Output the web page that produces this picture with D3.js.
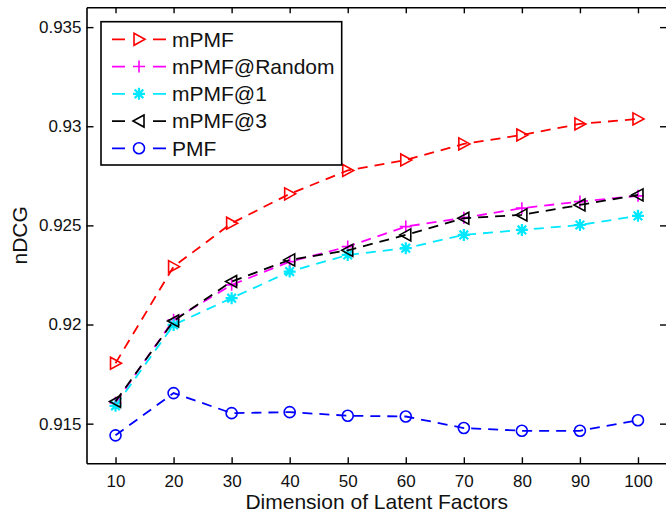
<!DOCTYPE html>
<html>
<head>
<meta charset="utf-8">
<script src="https://cdn.jsdelivr.net/npm/d3@7"></script>
<style>
  body { margin: 0; background: #fff; }
  text { font-family: "Liberation Sans", Arial, sans-serif; fill: #111; }
</style>
</head>
<body>
<div class="chart"></div>
<script>
// data
const dims = [10, 20, 30, 40, 50, 60, 70, 80, 90, 100];
const mPMF       = [0.91805, 0.92292, 0.92511, 0.92659, 0.92777, 0.92830, 0.92911, 0.92956, 0.93012, 0.93037];
const mPMFRandom = [0.91605, 0.92024, 0.92200, 0.92317, 0.92393, 0.92494, 0.92538, 0.92587, 0.92620, 0.92649];
const mPMF1      = [0.91590, 0.91998, 0.92133, 0.92267, 0.92351, 0.92385, 0.92452, 0.92477, 0.92502, 0.92548];
const mPMF3      = [0.91612, 0.92018, 0.92217, 0.92326, 0.92374, 0.92452, 0.92536, 0.92553, 0.92603, 0.92654];
const PMF        = [0.91441, 0.91654, 0.91553, 0.91558, 0.91540, 0.91536, 0.91478, 0.91464, 0.91464, 0.91517];
const seriesNames = ["mPMF", "mPMF@Random", "mPMF@1", "mPMF@3", "PMF"];
const yTicks = [0.915, 0.92, 0.925, 0.93, 0.935];
const yTickLabels = ["0.915", "0.92", "0.925", "0.93", "0.935"];

const series = [
  { name: seriesNames[0], values: mPMF,       color: "#ff0000", marker: "triRight" },
  { name: seriesNames[1], values: mPMFRandom, color: "#ff00ff", marker: "plus" },
  { name: seriesNames[2], values: mPMF1,      color: "#00e8ff", marker: "star" },
  { name: seriesNames[3], values: mPMF3,      color: "#000000", marker: "triLeft" },
  { name: seriesNames[4], values: PMF,        color: "#0000ff", marker: "circle" }
];

const W = 666, H = 513;
const plotLeft = 86.5, plotRight = 667, plotTop = 7.3, plotBottom = 463.3;

const svg = d3.select(".chart")
  .append("svg")
    .attr("width", W)
    .attr("height", H);

const x = d3.scaleLinear().domain([5, 105]).range([plotLeft, plotRight]);
const y = d3.scaleLinear().domain([0.913, 0.936]).range([plotBottom, plotTop]);

// marker shapes
const markerPath = (type) => {
  switch (type) {
    case "triRight": return "M-5,-6L6,0L-5,6Z";
    case "triLeft":  return "M5,-6L-6,0L5,6Z";
    case "plus":     return "M-6,0H6M0,-6V6";
    case "star":     return "M-6,0H6M0,-6V6M-4.3,-4.3L4.3,4.3M-4.3,4.3L4.3,-4.3";
    case "circle":   return "M5.5,0A5.5,5.5 0 1,1 -5.5,0A5.5,5.5 0 1,1 5.5,0Z";
  }
};

//axes
const axisStyle = g => {
  g.select(".domain").attr("stroke", "#000").attr("stroke-width", 1.6);
  g.selectAll(".tick line").attr("stroke", "#000").attr("stroke-width", 1.4);
  g.selectAll(".tick text")
    .style("font-family", '"Liberation Sans", Arial, sans-serif')
    .style("font-size", "17px")
    .attr("fill", "#111");
};

svg.append("g")
  .attr("transform", `translate(0,${plotBottom})`)
  .call(d3.axisBottom(x).tickValues(dims).tickSizeInner(-6).tickSizeOuter(0).tickPadding(12))
  .call(axisStyle);

svg.append("g")
  .attr("transform", `translate(0,${plotTop})`)
  .call(d3.axisTop(x).tickValues(dims).tickSizeInner(-6).tickSizeOuter(0).tickFormat(""))
  .call(axisStyle);

svg.append("g")
  .attr("transform", `translate(${plotLeft},0)`)
  .call(d3.axisLeft(y).tickValues(yTicks).tickSizeInner(-7).tickSizeOuter(0).tickPadding(5)
    .tickFormat((d, i) => yTickLabels[i]))
  .call(axisStyle);

svg.append("g")
  .attr("transform", `translate(${plotRight},0)`)
  .call(d3.axisRight(y).tickValues(yTicks).tickSizeInner(-7).tickSizeOuter(0).tickFormat(""))
  .call(axisStyle);

// axis titles
svg.append("text")
  .attr("x", (plotLeft + plotRight) / 2)
  .attr("y", 509)
  .attr("text-anchor", "middle")
  .style("font-size", "21px")
  .text("Dimension of Latent Factors");

svg.append("text")
  .attr("transform", `translate(27,${(plotTop + plotBottom) / 2}) rotate(-90)`)
  .attr("text-anchor", "middle")
  .style("font-size", "21px")
  .text("nDCG");

//lines
const line = d3.line()
  .x((d, i) => x(dims[i]))
  .y(d => y(d));

const plot = svg.append("g");

series.forEach(s => {
  const g = plot.append("g");
  g.append("path")
    .attr("d", line(s.values))
    .attr("fill", "none")
    .attr("stroke", s.color)
    .attr("stroke-width", 1.8)
    .attr("stroke-dasharray", "10,7");
  g.selectAll("path.marker")
    .data(s.values)
    .enter().append("path")
    .attr("class", "marker")
    .attr("transform", (d, i) => `translate(${x(dims[i])},${y(d)})`)
    .attr("d", markerPath(s.marker))
    .attr("fill", "none")
    .attr("stroke", s.color)
    .attr("stroke-width", s.marker === "star" ? 2.2 : 1.6);
});

//legend
const legend = svg.append("g");
legend.append("rect")
  .attr("x", 101)
  .attr("y", 21.7)
  .attr("width", 240.7)
  .attr("height", 143.3)
  .attr("fill", "#fff")
  .attr("stroke", "#000")
  .attr("stroke-width", 1.6);

const items = legend.selectAll(".item")
  .data(series)
  .enter().append("g")
  .attr("class", "item")
  .attr("transform", (d, i) => `translate(0,${39.3 + i * 27.25})`);

items.append("line")
  .attr("x1", 112).attr("x2", 166)
  .attr("stroke", d => d.color)
  .attr("stroke-width", 1.8)
  .attr("stroke-dasharray", "13,28");

items.append("path")
  .attr("transform", "translate(139,0)")
  .attr("d", d => markerPath(d.marker))
  .attr("fill", "none")
  .attr("stroke", d => d.color)
  .attr("stroke-width", d => d.marker === "star" ? 2.2 : 1.6);

items.append("text")
  .attr("x", 172)
  .attr("dy", "0.35em")
  .style("font-size", "21px")
  .text(d => d.name);
</script>
</body>
</html>
